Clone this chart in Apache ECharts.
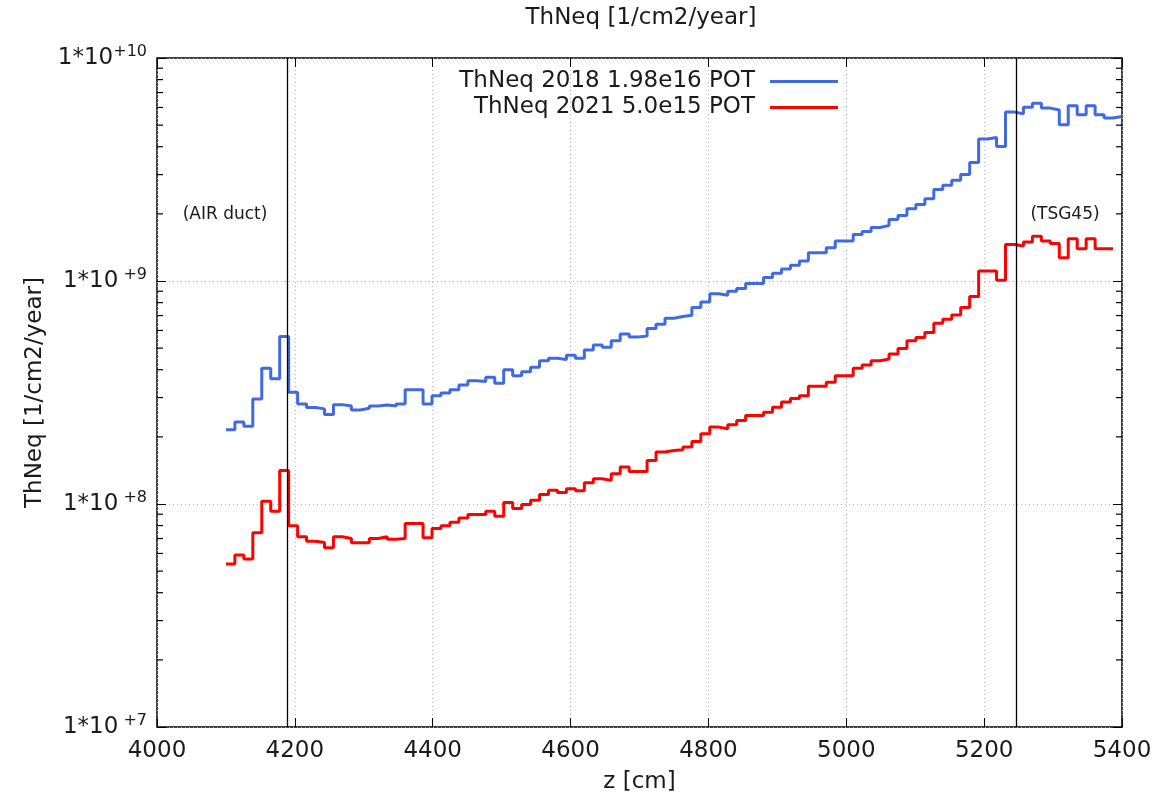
<!DOCTYPE html>
<html>
<head>
<meta charset="utf-8">
<script src="https://cdn.jsdelivr.net/npm/echarts@6/dist/echarts.min.js"></script>
<style>
html,body{margin:0;padding:0;background:#fff;}
#chart{width:1176px;height:799px;}
</style>
</head>
<body>
<div id="chart"></div>
<script>
// ---- data ----
var zStart = 4100;      // first bin lower edge [cm]
var binWidth = 13;      // bin width [cm]
var seriesNames = ['ThNeq 2018 1.98e16 POT', 'ThNeq 2021 5.0e15 POT'];
var thneq2018 = [
  2.15e8, 2.33e8, 2.23e8, 2.96e8, 4.06e8, 3.64e8, 5.64e8, 3.17e8, 2.81e8, 2.71e8,
  2.67e8, 2.52e8, 2.79e8, 2.75e8, 2.64e8, 2.69e8, 2.75e8, 2.78e8, 2.75e8, 2.81e8,
  3.25e8, 3.25e8, 2.81e8, 3.06e8, 3.15e8, 3.25e8, 3.42e8, 3.57e8, 3.54e8, 3.70e8,
  3.48e8, 4.00e8, 3.76e8, 3.92e8, 4.10e8, 4.39e8, 4.50e8, 4.45e8, 4.65e8, 4.50e8,
  4.91e8, 5.17e8, 5.05e8, 5.39e8, 5.78e8, 5.61e8, 5.66e8, 6.13e8, 6.40e8, 6.81e8,
  6.93e8, 7.02e8, 7.61e8, 8.06e8, 8.77e8, 8.63e8, 8.99e8, 9.26e8, 9.74e8, 9.74e8,
  1.036e9, 1.082e9, 1.131e9, 1.178e9, 1.229e9, 1.34e9, 1.34e9, 1.41e9, 1.51e9, 1.51e9,
  1.617e9, 1.668e9, 1.738e9, 1.774e9, 1.887e9, 1.966e9, 2.107e9, 2.203e9, 2.336e9, 2.57e9,
  2.686e9, 2.828e9, 3.0e9, 3.4e9, 4.33e9, 4.40e9, 4.01e9, 5.72e9, 5.62e9, 6.02e9,
  6.27e9, 5.96e9, 5.85e9, 5.02e9, 6.10e9, 5.56e9, 6.10e9, 5.56e9, 5.38e9, 5.47e9
];
var thneq2021 = [
  5.38e7, 5.90e7, 5.66e7, 7.43e7, 1.028e8, 9.28e7, 1.415e8, 7.98e7, 7.13e7, 6.81e7,
  6.72e7, 6.37e7, 7.13e7, 7.00e7, 6.70e7, 6.70e7, 7.00e7, 7.13e7, 6.95e7, 7.00e7,
  8.17e7, 8.17e7, 7.05e7, 7.76e7, 7.98e7, 8.28e7, 8.65e7, 8.97e7, 8.97e7, 9.28e7,
  8.81e7, 1.015e8, 9.54e7, 9.94e7, 1.039e8, 1.102e8, 1.152e8, 1.125e8, 1.172e8, 1.148e8,
  1.246e8, 1.299e8, 1.276e8, 1.367e8, 1.465e8, 1.40e8, 1.40e8, 1.568e8, 1.71e8, 1.738e8,
  1.751e8, 1.80e8, 1.907e8, 2.064e8, 2.212e8, 2.174e8, 2.265e8, 2.367e8, 2.492e8, 2.492e8,
  2.58e8, 2.717e8, 2.869e8, 2.972e8, 3.061e8, 3.373e8, 3.373e8, 3.515e8, 3.762e8, 3.762e8,
  4.059e8, 4.20e8, 4.39e8, 4.467e8, 4.702e8, 4.986e8, 5.393e8, 5.585e8, 5.879e8, 6.47e8,
  6.742e8, 7.047e8, 7.606e8, 8.518e8, 1.108e9, 1.108e9, 1.007e9, 1.459e9, 1.434e9, 1.494e9,
  1.589e9, 1.51e9, 1.474e9, 1.272e9, 1.547e9, 1.396e9, 1.547e9, 1.396e9, 1.396e9
];
var markerZ = [4189, 5246];                 // vertical reference lines
var markerTexts = ['(AIR duct)', '(TSG45)'];
var yTickExponents = [' +7', ' +8', ' +9', '+10'];
var xMin = 4000, xMax = 5400, xStep = 200;
var yMin = 1e7, yMax = 1e10;

// ---- helpers ----
function stepData(vals) {
  var out = [];
  for (var i = 0; i < vals.length; i++) out.push([zStart + i * binWidth, vals[i]]);
  out.push([zStart + vals.length * binWidth, vals[vals.length - 1]]);
  return out;
}
var minorTicks = [];
for (var e = 7; e < 10; e++) for (var m = 2; m <= 9; m++) minorTicks.push(m * Math.pow(10, e));

var FONT = 'DejaVu Sans';
var TXT = '#1a1a1a';
var chart = echarts.init(document.getElementById('chart'), null, {renderer: 'canvas'});

var gridLineStyle = {color: '#b4b4b4', width: 1, type: [1, 3]};
var legendText = {fontFamily: FONT, fontSize: 23, color: TXT, padding: [0, 10, 0, 0]};

var option = {
  animation: false,
  backgroundColor: '#fff',
  grid: {left: 157, right: 54, top: 58, bottom: 70, show: true, borderColor: '#000', borderWidth: 1.5, backgroundColor: 'transparent'},
  legend: [
    {data: [seriesNames[0]], right: 333, top: 65, align: 'right', icon: 'rect', itemWidth: 68, itemHeight: 3,
     textStyle: legendText, selectedMode: false},
    {data: [seriesNames[1]], right: 333, top: 91, align: 'right', icon: 'rect', itemWidth: 68, itemHeight: 3,
     textStyle: legendText, selectedMode: false}
  ],
  xAxis: [
    {type: 'value', min: xMin, max: xMax, interval: xStep, position: 'bottom',
     name: 'z [cm]', nameLocation: 'middle', nameGap: 44,
     nameTextStyle: {fontFamily: FONT, fontSize: 23, color: TXT},
     axisLine: {show: false},
     axisTick: {show: true, inside: true, length: 9, lineStyle: {color: '#000', width: 1}},
     axisLabel: {fontFamily: FONT, fontSize: 23, color: TXT, margin: 13,
       formatter: function (v) { return String(v); }},
     splitLine: {show: true, lineStyle: gridLineStyle}},
    {type: 'value', min: xMin, max: xMax, interval: xStep, position: 'top',
     axisLine: {show: false},
     axisTick: {show: true, inside: true, length: 9, lineStyle: {color: '#000', width: 1}},
     axisLabel: {show: false}, splitLine: {show: false}}
  ],
  yAxis: [
    {type: 'log', logBase: 10, min: yMin, max: yMax, position: 'left',
     name: 'ThNeq [1/cm2/year]', nameLocation: 'middle', nameGap: 108, nameRotate: 90,
     nameTextStyle: {fontFamily: FONT, fontSize: 23, color: TXT},
     axisLine: {show: false},
     axisTick: {show: true, inside: true, length: 9, lineStyle: {color: '#000', width: 1}},
     axisLabel: {
       margin: 10,
       formatter: function (v) {
         var idx = Math.round(Math.log10(v)) - 7;
         return '{a|1*10}{b|' + yTickExponents[idx] + '}';
       },
       rich: {
         a: {fontFamily: FONT, fontSize: 23, color: TXT, lineHeight: 28},
         b: {fontFamily: FONT, fontSize: 16, color: TXT, lineHeight: 16, verticalAlign: 'top'}
       }
     },
     splitLine: {show: true, lineStyle: gridLineStyle}},
    {type: 'log', logBase: 10, min: yMin, max: yMax, position: 'right',
     axisLine: {show: false},
     axisTick: {show: true, inside: true, length: 9, lineStyle: {color: '#000', width: 1}},
     axisLabel: {show: false}, splitLine: {show: false}}
  ],
  graphic: [
    {type: 'text', x: 641, y: 18,
     style: {text: 'ThNeq [1/cm2/year]', fontFamily: FONT, fontSize: 23, fill: TXT, align: 'center', verticalAlign: 'middle'}},
    {type: 'text', x: 225, y: 215,
     style: {text: markerTexts[0], fontFamily: FONT, fontSize: 17, fill: TXT, align: 'center', verticalAlign: 'middle'}},
    {type: 'text', x: 1065, y: 215,
     style: {text: markerTexts[1], fontFamily: FONT, fontSize: 17, fill: TXT, align: 'center', verticalAlign: 'middle'}}
  ],
  series: [
    {name: seriesNames[0], type: 'line', step: 'end', data: stepData(thneq2018),
     showSymbol: false, symbol: 'none', color: '#4169e1',
     lineStyle: {color: '#4169e1', width: 3}, clip: true, z: 3,
     markLine: {silent: true, symbol: 'none', label: {show: false},
       lineStyle: {color: '#000', width: 1.3, type: 'solid'},
       data: markerZ.map(function (z) { return {xAxis: z}; })}},
    {name: seriesNames[1], type: 'line', step: 'end', data: stepData(thneq2021),
     showSymbol: false, symbol: 'none', color: '#ff0000',
     lineStyle: {color: '#ff0000', width: 3}, clip: true, z: 3}
  ]
};
chart.setOption(option);

// minor log ticks (left and right, inward), positioned through the y axis scale
var xl = chart.convertToPixel({xAxisIndex: 0}, xMin);
var xr = chart.convertToPixel({xAxisIndex: 0}, xMax);
var tickEls = [];
minorTicks.forEach(function (v) {
  var y = chart.convertToPixel({yAxisIndex: 0}, v);
  tickEls.push({type: 'line', silent: true, z: 10, shape: {x1: xl, y1: y, x2: xl + 6, y2: y}, style: {stroke: '#000', lineWidth: 1.2}});
  tickEls.push({type: 'line', silent: true, z: 10, shape: {x1: xr, y1: y, x2: xr - 6, y2: y}, style: {stroke: '#000', lineWidth: 1.2}});
});
chart.setOption({graphic: option.graphic.concat(tickEls)});
</script>
</body>
</html>
